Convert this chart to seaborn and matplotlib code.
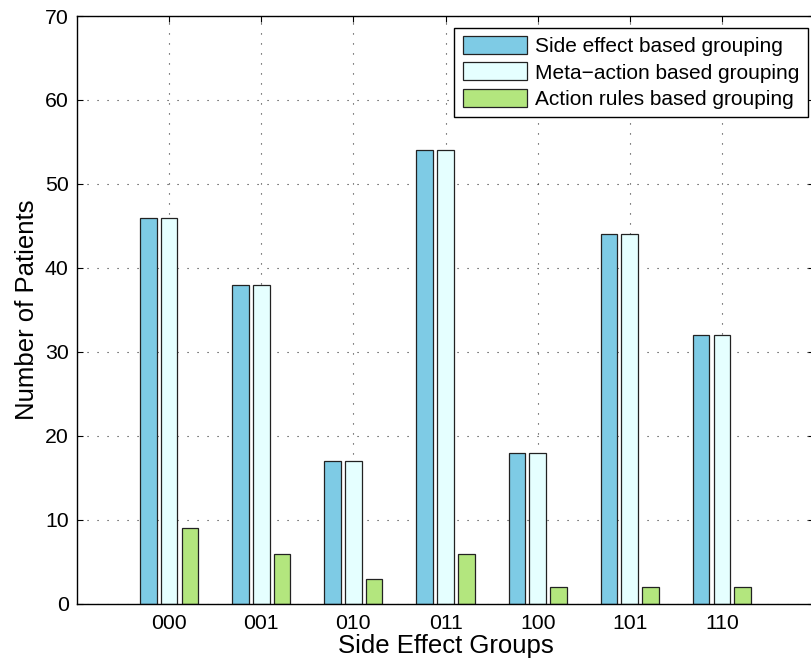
import numpy as np
import pandas as pd
import matplotlib
matplotlib.use('Agg')
import matplotlib.pyplot as plt
import seaborn as sns

groups = ['000', '001', '010', '011', '100', '101', '110']
side_effect = [46, 38, 17, 54, 18, 44, 32]
meta_action = [46, 38, 17, 54, 18, 44, 32]
action_rules = [9, 6, 3, 6, 2, 2, 2]
series = ['Side effect based grouping', 'Meta\u2212action based grouping', 'Action rules based grouping']
colors = ['#7ecbe5', '#e5ffff', '#b3e67e']

df = pd.DataFrame({
    'group': groups * 3,
    'patients': side_effect + meta_action + action_rules,
    'series': [series[0]] * 7 + [series[1]] * 7 + [series[2]] * 7,
})

plt.rcParams['font.family'] = ['Liberation Sans', 'DejaVu Sans']

fig = plt.figure(figsize=(8.12, 6.64), dpi=100)
ax = fig.add_axes([0.0948, 0.0904, 0.9077, 0.8855])

sns.barplot(data=df, x='group', y='patients', hue='series', hue_order=series,
            palette=colors, width=0.675, gap=0.2, edgecolor='#222222',
            linewidth=0.9, saturation=1, ax=ax)

ax.set_xlim(-1, 7)
ax.set_ylim(0, 70)
ax.set_yticks(np.arange(0, 71, 10))
ax.grid(True, linestyle=(0, (1, 8)), color='#333333', linewidth=0.8)
ax.set_axisbelow(True)
ax.tick_params(direction='in', top=True, right=True, length=4, width=0.8,
               labelsize=15.3, colors='black')
ax.tick_params(axis='x', pad=7)
ax.tick_params(axis='y', pad=6)
for s in ax.spines.values():
    s.set_color('black')
    s.set_linewidth(1.0)

ax.set_xlabel('Side Effect Groups', fontsize=18.5, labelpad=1)
ax.set_ylabel('Number of Patients', fontsize=18.5, labelpad=4)

handles, labels = ax.get_legend_handles_labels()
leg = ax.legend(handles, labels, loc='upper right', bbox_to_anchor=(0.992, 0.98),
                fontsize=15, frameon=True, fancybox=False, framealpha=1,
                edgecolor='black', borderpad=0.4, labelspacing=0.3,
                handlelength=3.1, handleheight=0.95, handletextpad=0.4,
                borderaxespad=0)
leg.get_frame().set_linewidth(1.0)

fig.savefig('out.png', dpi=100)
